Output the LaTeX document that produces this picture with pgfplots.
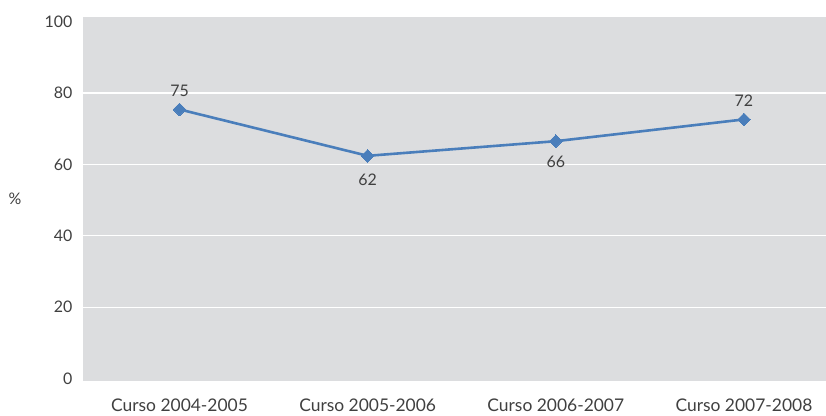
\documentclass[border=0pt]{standalone}
\usepackage{pgfplots}
\pgfplotsset{compat=1.18}
\usepackage{fontspec}
\setmainfont{Lato}
\definecolor{bg}{RGB}{220,221,223}
\definecolor{ln}{RGB}{74,126,187}
\definecolor{tx}{RGB}{64,64,64}
\begin{document}
\begin{tikzpicture}
\useasboundingbox (-83bp,-35bp) rectangle (743bp,381bp);
\begin{axis}[
 at={(0,0)}, anchor=south west,
 scale only axis, width=743bp, height=364bp,
 xmin=-0.513, xmax=3.436, ymin=-0.7, ymax=101.3,
 axis background/.style={fill=bg},
 axis line style={draw=none},
 major tick length=0pt,
 xtick={0,1,2,3},
 xticklabels={Curso 2004-2005, Curso 2005-2006, Curso 2006-2007, Curso 2007-2008},
 ytick={20,40,60,80},
 extra y ticks={0,100},
 extra y tick style={grid=none},
 ymajorgrids, grid style={white, line width=1.2bp},
 tick label style={text=tx},
 x tick label style={font=\fontsize{17.5}{20}\selectfont, anchor=base, inner sep=0pt, yshift=-30bp},
 y tick label style={font=\fontsize{16}{19}\selectfont, anchor=east, inner sep=0pt, xshift=-10.5bp},
 /pgf/number format/assume math mode=true,
 ylabel={\%},
 every axis y label/.style={at={(rel axis cs:0,0.5)}, anchor=center, xshift=-68bp, font=\fontsize{16}{19}\selectfont, text=tx},
 nodes near coords style={font=\fontsize{16}{19}\selectfont, text=tx, anchor=center, inner sep=0pt},
]
\addplot[ln, line width=2.6bp, mark=square*, mark size=4.5bp, mark options={rotate=45, fill=ln, draw=ln, line width=0pt}]
 coordinates {(0,75.4) (1,62.4) (2,66.5) (3,72.6)};
\addplot[draw=none, nodes near coords, point meta=explicit symbolic, nodes near coords style={yshift=19bp}]
 coordinates {(0,75.4)[75] (3,72.6)[72]};
\addplot[draw=none, nodes near coords, point meta=explicit symbolic, nodes near coords style={yshift=-24bp}]
 coordinates {(1,62.4)[62]};
\addplot[draw=none, nodes near coords, point meta=explicit symbolic, nodes near coords style={yshift=-21bp}]
 coordinates {(2,66.5)[66]};
\end{axis}
\end{tikzpicture}
\end{document}
